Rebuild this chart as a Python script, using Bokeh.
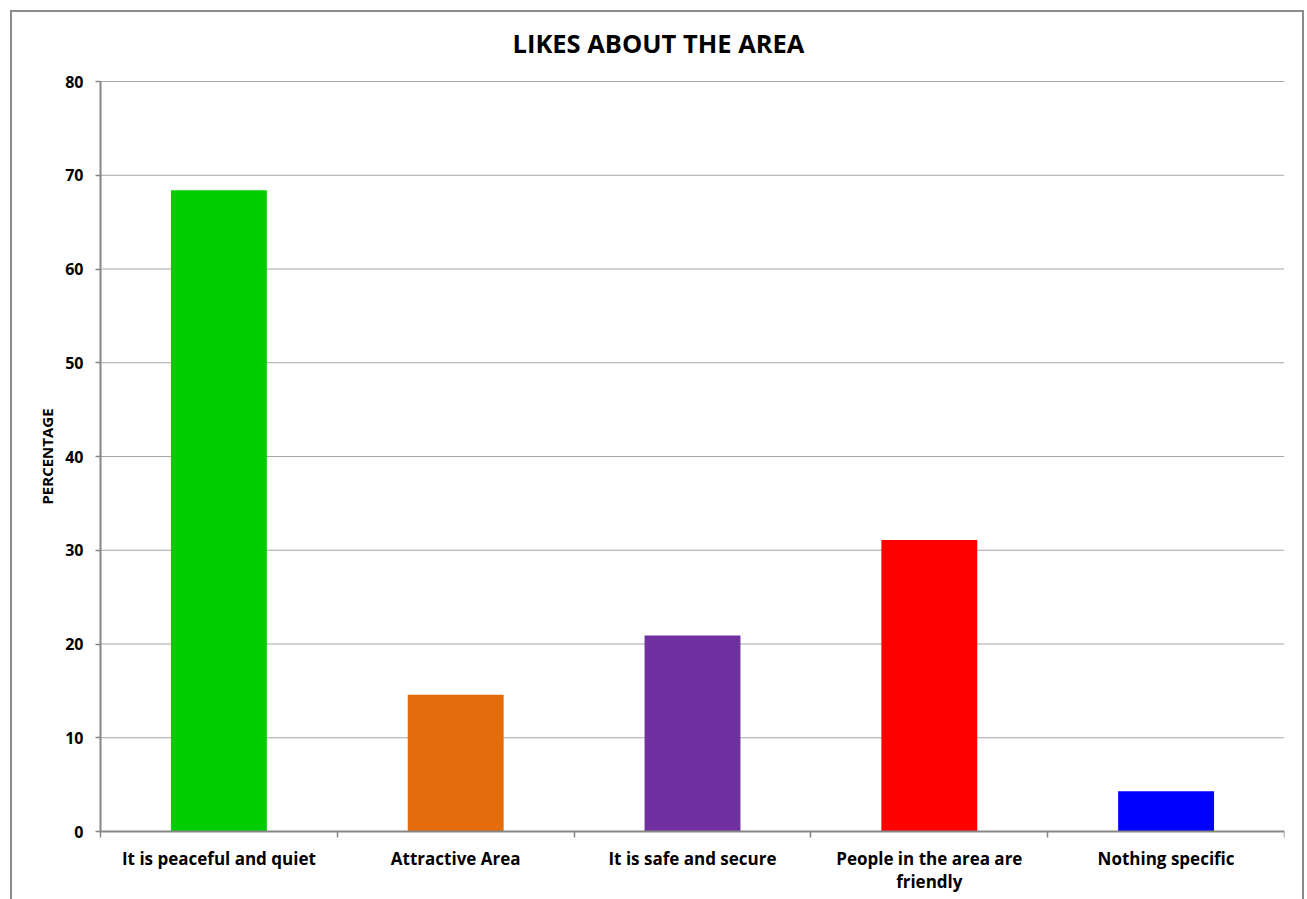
import math
from bokeh.plotting import figure
from bokeh.models import ColumnDataSource, FixedTicker, Range1d, Label
from bokeh.embed import file_html
from bokeh.resources import INLINE

title_text = "LIKES ABOUT THE AREA"
y_title = "PERCENTAGE"
categories = [
    "It is peaceful and quiet",
    "Attractive Area",
    "It is safe and secure",
    "People in the area are\nfriendly",
    "Nothing specific",
]
values = [68.4, 14.6, 20.9, 31.1, 4.3]
colors = ["#00CC00", "#E46C0A", "#7030A0", "#FF0000", "#0000FF"]
y_ticks = [0, 10, 20, 30, 40, 50, 60, 70, 80]

n = len(categories)
positions = [i + 0.5 for i in range(n)]
boundaries = list(range(n + 1))
src = ColumnDataSource(dict(x=positions, top=values, color=colors, cat=categories))
grid_src = ColumnDataSource(dict(y=y_ticks, x0=[0] * len(y_ticks), x1=[n] * len(y_ticks)))

FONT = "Open Sans"

# layout constants (pixels)
PLOT_W = 1184     # width of the category area
LEFT_W = 88       # room left of the category area (y tick labels, y title)
PLOT_H = 750      # height of the 0..80 value area
HEADER_H = 69     # room above the value area for the title
FOOTER_H = 70     # room below the value area for the category labels
y_max = y_ticks[-1]
y_end = y_max * (PLOT_H + HEADER_H) / PLOT_H
y_start = -y_max * FOOTER_H / PLOT_H
x_start = -n * LEFT_W / PLOT_W

p = figure(
    width=1294, height=PLOT_H + HEADER_H + FOOTER_H,
    x_range=Range1d(x_start, n), y_range=Range1d(y_start, y_end),
    output_backend="svg", toolbar_location=None,
    min_border_left=0, min_border_right=22, min_border_top=0, min_border_bottom=0,
)
p.margin = (10, 0, 0, 10)
p.styles = {"border-top": "2px solid #8c8c8c", "border-left": "2px solid #8c8c8c",
            "border-right": "2px solid #8c8c8c"}

# horizontal gridlines, only across the category area
p.segment(x0="x0", x1="x1", y0="y", y1="y", source=grid_src,
          line_color="#a6a6a6", line_width=1.2)

p.vbar(x="x", top="top", bottom=0, width=0.405, color="color", line_color=None, source=src)

# chart title, centred over the whole chart (screen units from frame bottom-left)
p.add_layout(Label(
    x=646, y=FOOTER_H + PLOT_H + HEADER_H - 30, x_units="screen", y_units="screen",
    text=title_text, text_align="center", text_baseline="middle",
    text_font=FONT, text_font_size="25.5px", text_font_style="bold", text_color="#000000",
))
# y axis title, centred on the value area
p.add_layout(Label(
    x=34, y=FOOTER_H + PLOT_H / 2, x_units="screen", y_units="screen", text=y_title,
    angle=math.pi / 2, text_align="center", text_baseline="middle",
    text_font=FONT, text_font_size="15px", text_font_style="bold", text_color="#000000",
))

p.outline_line_color = None
p.background_fill_color = "white"
p.border_fill_color = "white"
p.xgrid.visible = False
p.ygrid.visible = False

# y axis, placed at the left edge of the category area
p.yaxis.fixed_location = 0
p.yaxis.ticker = FixedTicker(ticks=y_ticks)
p.yaxis.bounds = (0, y_max)
p.yaxis.major_label_text_font = FONT
p.yaxis.major_label_text_font_style = "bold"
p.yaxis.major_label_text_font_size = "16px"
p.yaxis.major_label_text_color = "#000000"
p.yaxis.major_label_standoff = 12
p.yaxis.major_tick_out = 5
p.yaxis.major_tick_in = 0
p.yaxis.minor_tick_out = 0
p.yaxis.minor_tick_in = 0
p.yaxis.axis_line_color = "#868686"
p.yaxis.axis_line_width = 2
p.yaxis.major_tick_line_color = "#868686"
p.yaxis.major_tick_line_width = 1.5

# x axis, placed at value 0
p.xaxis.fixed_location = 0
p.xaxis.ticker = FixedTicker(ticks=positions, minor_ticks=boundaries)
p.xaxis.bounds = (0, n)
p.xaxis.major_label_overrides = {pos: cat for pos, cat in zip(positions, categories)}
p.xaxis.major_label_text_font = FONT
p.xaxis.major_label_text_font_style = "bold"
p.xaxis.major_label_text_font_size = "17px"
p.xaxis.major_label_text_line_height = 1.0
p.xaxis.major_label_text_color = "#000000"
p.xaxis.major_label_standoff = 9
p.xaxis.major_tick_out = 0
p.xaxis.major_tick_in = 0
p.xaxis.minor_tick_out = 6
p.xaxis.minor_tick_in = 0
p.xaxis.minor_tick_line_color = "#868686"
p.xaxis.minor_tick_line_width = 1.5
p.xaxis.axis_line_color = "#868686"
p.xaxis.axis_line_width = 2

open("out.html", "w").write(file_html(p, INLINE))
